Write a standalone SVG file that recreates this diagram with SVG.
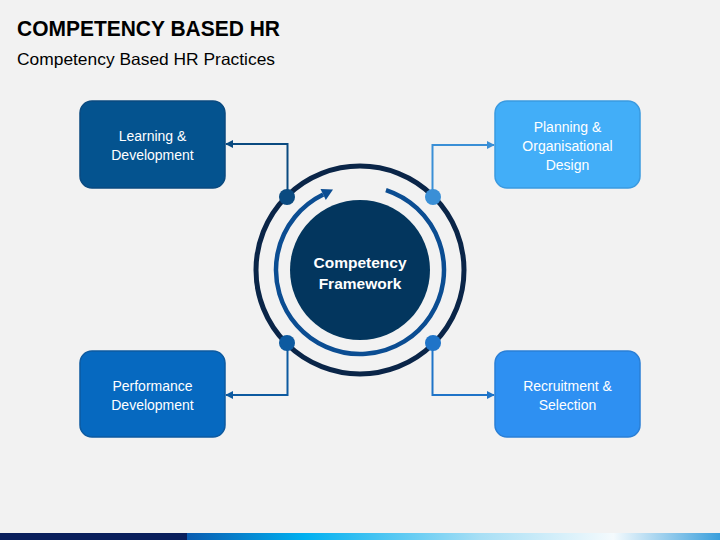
<svg xmlns="http://www.w3.org/2000/svg" width="720" height="540" viewBox="0 0 720 540">
  <defs>
    <linearGradient id="barGrad" x1="187" y1="0" x2="720" y2="0" gradientUnits="userSpaceOnUse">
      <stop offset="0" stop-color="#0a5cb0"/>
      <stop offset="0.22" stop-color="#00b0f0"/>
      <stop offset="0.55" stop-color="#a8dff5"/>
      <stop offset="0.8" stop-color="#f4fafd"/>
      <stop offset="1" stop-color="#3a9fdc"/>
    </linearGradient>
    <marker id="arrTL" viewBox="0 0 10 10" refX="9" refY="5" markerWidth="8" markerHeight="8" markerUnits="userSpaceOnUse" orient="auto">
      <path d="M0,0 L10,5 L0,10 z" fill="#0a4a80"/>
    </marker>
    <marker id="arrTR" viewBox="0 0 10 10" refX="9" refY="5" markerWidth="8" markerHeight="8" markerUnits="userSpaceOnUse" orient="auto">
      <path d="M0,0 L10,5 L0,10 z" fill="#3a8fd6"/>
    </marker>
    <marker id="arrBL" viewBox="0 0 10 10" refX="9" refY="5" markerWidth="8" markerHeight="8" markerUnits="userSpaceOnUse" orient="auto">
      <path d="M0,0 L10,5 L0,10 z" fill="#0d5aa0"/>
    </marker>
    <marker id="arrBR" viewBox="0 0 10 10" refX="9" refY="5" markerWidth="8" markerHeight="8" markerUnits="userSpaceOnUse" orient="auto">
      <path d="M0,0 L10,5 L0,10 z" fill="#1f74c8"/>
    </marker>
  </defs>
  <style>
    .title { font-family: "Liberation Sans", Arial, sans-serif; font-weight: bold; font-size: 22px; fill: #000000; }
    .subtitle { font-family: "Liberation Sans", Arial, sans-serif; font-size: 16.5px; fill: #000000; }
    .box { stroke-width: 1.5; }
    .boxtext { font-family: "Liberation Sans", Arial, sans-serif; font-size: 14px; fill: #ffffff; text-anchor: middle; }
    .centertext { font-family: "Liberation Sans", Arial, sans-serif; font-weight: bold; font-size: 15.5px; fill: #ffffff; text-anchor: middle; }
    .conn { fill: none; stroke-width: 2; }
  </style>

  <rect x="0" y="0" width="720" height="540" fill="#f2f2f2"/>

  <text class="title" x="17" y="36" textLength="263" lengthAdjust="spacingAndGlyphs">COMPETENCY BASED HR</text>
  <text class="subtitle" x="17" y="65" textLength="258" lengthAdjust="spacingAndGlyphs">Competency Based HR Practices</text>

  <g id="connectors">
    <path class="conn" d="M287.5,197 V144 H226" stroke="#0a4a80" marker-end="url(#arrTL)"/>
    <path class="conn" d="M432.5,197 V145 H494" stroke="#3a8fd6" marker-end="url(#arrTR)"/>
    <path class="conn" d="M287.5,343 V395 H226" stroke="#0d5aa0" marker-end="url(#arrBL)"/>
    <path class="conn" d="M432.5,343 V395 H494" stroke="#1f74c8" marker-end="url(#arrBR)"/>
  </g>

  <g id="framework">
    <circle cx="360" cy="270" r="104" fill="none" stroke="#0a2548" stroke-width="5"/>
    <path d="M385.96,190.11 A84,84 0 1 1 323.17,194.50" fill="none" stroke="#0b4d92" stroke-width="4.5"/>
    <polygon points="333,189.6 325.8,199.9 320.5,189.1" fill="#0b4d92"/>
    <circle cx="360" cy="270" r="70" fill="#03365e"/>
    <text class="centertext" x="360" y="268">Competency</text>
    <text class="centertext" x="360" y="289">Framework</text>
  </g>

  <g id="dots">
    <circle cx="287" cy="197" r="8" fill="#0a4a80"/>
    <circle cx="433" cy="197" r="8" fill="#3a8fd6"/>
    <circle cx="287" cy="343" r="8" fill="#0d5aa0"/>
    <circle cx="433" cy="343" r="8" fill="#1f74c8"/>
  </g>

  <g id="learning-development">
    <rect class="box" x="80" y="101" width="145" height="87" rx="12" fill="#04538f" stroke="#0a4a80"/>
    <text class="boxtext" x="152.5" y="141">Learning &amp;</text>
    <text class="boxtext" x="152.5" y="160">Development</text>
  </g>

  <g id="planning-design">
    <rect class="box" x="495" y="101" width="145" height="87" rx="12" fill="#42aef8" stroke="#3a9ae0"/>
    <text class="boxtext" x="567.5" y="132">Planning &amp;</text>
    <text class="boxtext" x="567.5" y="151">Organisational</text>
    <text class="boxtext" x="567.5" y="170">Design</text>
  </g>

  <g id="performance-development">
    <rect class="box" x="80" y="351" width="145" height="86" rx="12" fill="#0669c0" stroke="#0d5aa0"/>
    <text class="boxtext" x="152.5" y="391">Performance</text>
    <text class="boxtext" x="152.5" y="410">Development</text>
  </g>

  <g id="recruitment-selection">
    <rect class="box" x="495" y="351" width="145" height="86" rx="12" fill="#2e90f2" stroke="#2a7fd6"/>
    <text class="boxtext" x="567.5" y="391">Recruitment &amp;</text>
    <text class="boxtext" x="567.5" y="410">Selection</text>
  </g>

  <rect x="0" y="533" width="187" height="7" fill="#0a1f5c"/>
  <rect x="187" y="533" width="533" height="7" fill="url(#barGrad)"/>
</svg>
